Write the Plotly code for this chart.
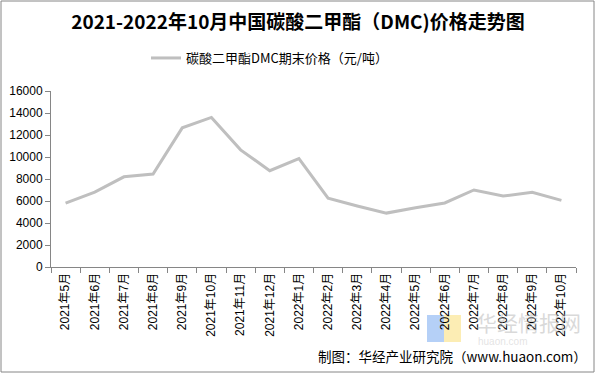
import plotly.graph_objects as go

categories = ["2021年5月", "2021年6月", "2021年7月", "2021年8月", "2021年9月", "2021年10月",
              "2021年11月", "2021年12月", "2022年1月", "2022年2月", "2022年3月", "2022年4月",
              "2022年5月", "2022年6月", "2022年7月", "2022年8月", "2022年9月", "2022年10月"]
prices = [5800, 6800, 8200, 8450, 12650, 13600, 10650, 8750, 9850, 6250, 5550, 4900,
          5390, 5820, 7000, 6450, 6790, 6060]
y_ticks = [0, 2000, 4000, 6000, 8000, 10000, 12000, 14000, 16000]
y_tick_labels = [str(v) for v in y_ticks]

title_text = "2021-2022年10月中国碳酸二甲酯（DMC)价格走势图"
series_name = "碳酸二甲酯DMC期末价格（元/吨）"
source_text = "制图：华经产业研究院（www.huaon.com）"

W, H = 596, 374
L, R, T, B = 51, 20, 91, 107
pw, ph = W - L - R, H - T - B

def px(x):
    return (x - L) / pw

def py(y):
    return (H - B - y) / ph

fig = go.Figure()
fig.add_trace(go.Scatter(
    x=categories, y=prices, mode="lines", name=series_name,
    line=dict(color="#BFBFBF", width=3),
))

fig.update_layout(
    width=W, height=H,
    margin=dict(l=L, r=R, t=T, b=B, autoexpand=False),
    paper_bgcolor="white", plot_bgcolor="white",
    font=dict(family="Liberation Sans, Arial, Noto Sans CJK SC", size=12, color="#000000"),
    title=dict(text="<b>" + title_text + "</b>", x=0.5, xanchor="center", y=1 - 22 / H, yanchor="middle",
               font=dict(family="Noto Sans CJK SC", size=19, color="#000000")),
    showlegend=True,
    legend=dict(orientation="h", x=px(146), xanchor="left", y=py(58), yanchor="middle",
                font=dict(family="Noto Sans CJK SC", size=13, color="#000000"),
                bgcolor="rgba(0,0,0,0)"),
    xaxis=dict(type="category", showgrid=False, showline=True, linecolor="#868686", linewidth=1,
               ticks="outside", tickson="boundaries", ticklen=5, tickcolor="#868686",
               tickangle=-90, tickfont=dict(family="Liberation Sans, Noto Sans CJK SC", size=12),
               range=[-0.5, len(categories) - 0.5], automargin=False),
    yaxis=dict(range=[0, 16000], tickvals=y_ticks, ticktext=y_tick_labels, showgrid=False, showline=True,
               linecolor="#868686", linewidth=1, ticks="outside", ticklen=5, tickcolor="#868686",
               tickfont=dict(family="Liberation Sans, Arial", size=12), zeroline=False,
               automargin=False),
)

# outer frame
fig.add_shape(type="rect", xref="paper", yref="paper",
              x0=px(1), x1=px(594), y0=py(372), y1=py(1),
              line=dict(color="#868686", width=1), fillcolor="rgba(0,0,0,0)", layer="below")

# watermark logo
fig.add_shape(type="rect", xref="paper", yref="paper",
              x0=px(427), x1=px(444), y0=py(342), y1=py(315),
              line=dict(width=0), fillcolor="rgba(120,170,240,0.55)", layer="below")
fig.add_shape(type="rect", xref="paper", yref="paper",
              x0=px(444), x1=px(461), y0=py(342), y1=py(315),
              line=dict(width=0), fillcolor="rgba(250,225,130,0.6)", layer="below")
fig.add_annotation(xref="paper", yref="paper", x=px(474), y=py(322), xanchor="left", yanchor="middle",
                   text="华经情报网", showarrow=False,
                   font=dict(family="Noto Sans CJK SC", size=21, color="rgba(180,180,180,0.5)"))
fig.add_annotation(xref="paper", yref="paper", x=px(476), y=py(341), xanchor="left", yanchor="middle",
                   text="huaon.com", showarrow=False,
                   font=dict(family="Liberation Sans", size=10, color="rgba(200,200,200,0.5)"))

# source
fig.add_annotation(xref="paper", yref="paper", x=px(589), y=py(356), xanchor="right", yanchor="middle",
                   text=source_text, showarrow=False,
                   font=dict(family="Noto Sans CJK SC", size=13.5, color="#000000"))

fig.write_html("out.html", config={"displayModeBar": False},
               post_script="document.body.style.margin='0';")
